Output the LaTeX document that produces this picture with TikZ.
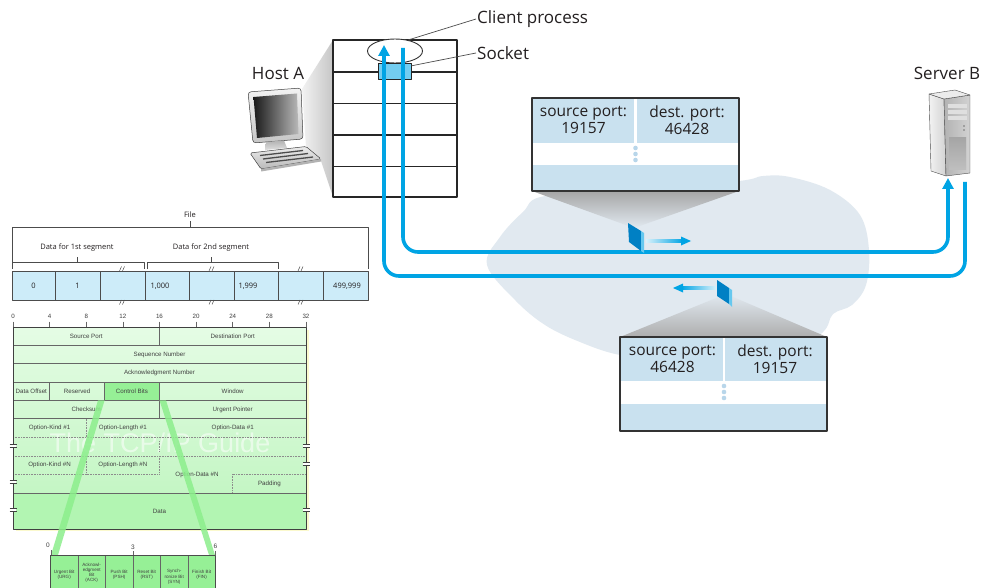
\documentclass[tikz,border=0pt]{standalone}
\usepackage{fontspec}
\setmainfont{Open Sans}
\newfontfamily\hdrfont{Liberation Sans}
\usepackage{xcolor}
\usepackage{tikz}
\usetikzlibrary{arrows.meta, shapes.geometric, positioning}

\definecolor{netblue}{RGB}{0,164,228}
\definecolor{slabblue}{RGB}{0,128,196}
\definecolor{pktblue}{RGB}{201,225,239}
\definecolor{pktdot}{RGB}{184,214,234}
\definecolor{cloudgray}{RGB}{225,233,240}
\definecolor{filecell}{RGB}{205,236,249}
\definecolor{hdrtop}{RGB}{229,252,229}
\definecolor{hdrbot}{RGB}{196,246,196}
\definecolor{hdrdata}{RGB}{178,245,178}
\definecolor{ctrlgreen}{RGB}{150,240,150}
\definecolor{bandgreen}{RGB}{140,238,140}
\definecolor{inkgray}{RGB}{35,31,32}

\tikzstyle{lbl} = [font=\fontsize{17}{20}\selectfont, text=inkgray, inner sep=1pt]
\tikzstyle{pkttext} = [font=\fontsize{15.5}{16.5}\selectfont, align=center, text=inkgray]
\tikzstyle{filetext} = [font=\fontsize{7.5}{9}\selectfont, text=inkgray, inner sep=0pt]
\tikzstyle{hdr} = [font=\hdrfont\fontsize{6.2}{7}\selectfont, text=black!75, inner sep=0pt]
\tikzstyle{bitcell} = [font=\hdrfont\fontsize{4.6}{5.2}\selectfont, align=center, text=black!75, inner sep=0pt]
\tikzstyle{flow} = [netblue, line width=3.6pt, rounded corners=15pt]
\tikzstyle{flowtip} = [-{Triangle[width=11pt,length=11pt]}]
\tikzstyle{leader} = [black!70, line width=0.7pt]
\tikzstyle{optline} = [densely dotted, black!45, line width=0.6pt]
\tikzstyle{hline} = [black!60, line width=0.6pt]
\tikzstyle{cellline} = [black!70, line width=0.7pt]

\begin{document}
\begin{tikzpicture}[x=1pt, y=-1pt, line join=round]
\fill[white] (0,0) rectangle (982,588);
\useasboundingbox (0,0) rectangle (982,588);

% network cloud
\fill[cloudgray] plot[smooth cycle, tension=0.6] coordinates {(487,265) (500,237) (523,212) (545,196) (640,190) (739,181) (763,176) (790,177) (830,190) (860,215) (869,250) (866,285) (852,305) (833,314) (822,333) (780,360) (680,362) (620,355) (580,342) (545,325) (515,300)};

% shadows from the segments up/down to the header boxes
\shade[top color=black!35, bottom color=cloudgray] (532,191) -- (739,191) -- (634,228) -- cycle;
\shade[top color=cloudgray, bottom color=black!32] (726,294) -- (827,337) -- (620,337) -- cycle;

% first segment header (client -> server)
\fill[pktblue] (532,98) rectangle (739,143);
\fill[white] (532,143) rectangle (739,165);
\fill[pktblue] (532,165) rectangle (739,191);
\draw[white, line width=2.5pt] (635.5,98) -- (635.5,143);
\foreach \y in {148,154,160} \fill[pktdot] (635.5,\y) circle (2.3pt);
\draw[black!80, line width=1.5pt] (532,98) rectangle (739,191);
\node (srcA) [pkttext] at (583.5,120) {source port:\\19157};
\node (dstA) [pkttext] at (687,120) {dest. port:\\46428};

% second segment header (server -> client)
\fill[pktblue] (620,337) rectangle (827,381);
\fill[white] (620,381) rectangle (827,404);
\fill[pktblue] (620,404) rectangle (827,431);
\draw[white, line width=2.5pt] (724,337) -- (724,381);
\foreach \y in {386,392,398} \fill[pktdot] (724,\y) circle (2.3pt);
\draw[black!80, line width=1.5pt] (620,337) rectangle (827,431);
\node (srcB) [pkttext] at (672.5,359) {source port:\\46428};
\node (dstB) [pkttext] at (775,359) {dest. port:\\19157};

% host A: shadow, computer, layer stack
\shade[left color=gray!10, right color=gray!45] (302,89) -- (333,40) -- (333,197) -- (321,161) -- (306,147) -- cycle;
\shade[top color=gray!10, bottom color=gray!45, draw=gray!50!black, line width=0.5pt, rounded corners=3pt] (248,92) -- (301,88) -- (303,139) -- (253,143) -- cycle;
\shade[left color=black!90, right color=gray!55] (253.5,97) -- (297,93.5) -- (298.5,134) -- (257,138) -- cycle;
\shade[top color=gray!60, bottom color=gray!25] (266,142) -- (284,140.5) -- (287,148) -- (265,150) -- cycle;
\shade[top color=gray!15, bottom color=gray!55, draw=gray!50!black, line width=0.5pt, rounded corners=1.5pt] (250,153) -- (306,146.5) -- (321,159) -- (261,169) -- cycle;
\fill[gray!60] (261,169) -- (321,159) -- (321,161.5) -- (261,171.5) -- cycle;
\draw[black!70, line width=1.3pt] (260,155.5) -- (303,150.5);
\draw[black!70, line width=1.3pt] (263,159) -- (308,153.5);
\draw[black!70, line width=1.3pt] (266,162.5) -- (313,157);
\node (hostA) [lbl] at (278,73) {Host A};

\node (stack) [draw=black!85, line width=1.2pt, fill=white, minimum width=124pt, minimum height=157pt] at (395,118.5) {};
\foreach \y in {72,103.5,135,166.5} \draw[black!85, line width=1.2pt] (333,\y) -- (457,\y);
\node (proc) [ellipse, draw=black!80, line width=0.9pt, fill=white, minimum width=55pt, minimum height=24pt, inner sep=0pt] at (395,51) {};
\node (sock) [draw=black!85, line width=1pt, fill=netblue!55, minimum width=33pt, minimum height=16pt, inner sep=0pt] at (394.5,72) {};

\node (cliLbl) [lbl, anchor=west] at (476,19) {Client process};
\node (sockLbl) [lbl, anchor=west] at (476,53) {Socket};
\draw[leader] (cliLbl.west) -- (proc.40);
\draw[leader] (sockLbl.west) -- (sock.20);

% server B tower
\shade[left color=gray!10, right color=gray!35, draw=gray!60!black, line width=0.4pt] (929,94) -- (944,99) -- (946,176) -- (931,171) -- cycle;
\shade[left color=gray!60, right color=gray!35, draw=gray!60!black, line width=0.4pt] (944,99) -- (970,95) -- (970,173) -- (946,176) -- cycle;
\fill[gray!15, draw=gray!60!black, line width=0.4pt] (929,94) -- (955,90) -- (970,95) -- (944,99) -- cycle;
\foreach \y in {104,110,116} \fill[gray!25] (948,\y) rectangle (967,\y+4.5);
\fill[black!55] (964,126) circle (0.9pt);
\fill[black!55] (964,130) circle (0.9pt);
\shade[top color=gray!70, bottom color=gray!50] (949,138) rectangle (966,170);
\node (serverB) [lbl] at (947,73) {Server B};

% the two flows
\coordinate (hostOut) at (403,48);
\coordinate (hostIn) at (384,45);
\coordinate (srvIn) at (948,178);
\coordinate (srvOut) at (965,182);
\coordinate (highRun) at (0,252);
\coordinate (lowRun) at (0,276);
\draw[flow, flowtip] (hostOut) -- (hostOut |- highRun) -- (srvIn |- highRun) -- (srvIn);
\draw[flow, flowtip] (srvOut) -- (srvOut |- lowRun) -- (hostIn |- lowRun) -- (hostIn);

% segments travelling on the flows
\fill[slabblue] (628,223) -- (641,231) -- (641,251) -- (629,242) -- cycle;
\fill[netblue!60] (641,231) -- (644,233) -- (644,253) -- (641,251) -- cycle;
\shade[left color=netblue!15, right color=netblue] (646,239.5) rectangle (683,242.5);
\fill[netblue] (681,236.5) -- (691,241) -- (681,245.5) -- cycle;

\fill[slabblue] (717,280) -- (729,288) -- (729,304) -- (717,296) -- cycle;
\fill[netblue!60] (729,288) -- (732,290) -- (732,307) -- (729,304) -- cycle;
\shade[left color=netblue, right color=netblue!15] (681,286.5) rectangle (716,289.5);
\fill[netblue] (683,283.5) -- (673,288) -- (683,292.5) -- cycle;

% file split into segments
\node (fileLbl) [filetext] at (190,215) {File};
\draw[cellline] (12,268) -- (12,227) -- (368,227) -- (368,269);
\draw[cellline] (190,227) -- (190,221);
\node (seg1Lbl) [filetext] at (77,248) {Data for 1st segment};
\node (seg2Lbl) [filetext] at (211,248) {Data for 2nd segment};
\draw[cellline] (12,269) -- (12,262) -- (144,262) -- (144,269);
\draw[cellline] (77,262) -- (77,257);
\draw[cellline] (147,269) -- (147,262) -- (278,262) -- (278,269);
\draw[cellline] (211,262) -- (211,257);
\fill[filecell] (12,271) rectangle (368,300);
\foreach \x in {55,100,145,189,234,278,323} \draw[cellline] (\x,271) -- (\x,300);
\draw[cellline] (12,271) rectangle (368,300);
\foreach \x in {122,211.5,300.5} {
  \draw[black!70, line width=0.5pt] (\x-2.5,271) -- (\x-0.5,266.5);
  \draw[black!70, line width=0.5pt] (\x+0.5,271) -- (\x+2.5,266.5);
  \draw[black!70, line width=0.5pt] (\x-2.5,304.5) -- (\x-0.5,300);
  \draw[black!70, line width=0.5pt] (\x+0.5,304.5) -- (\x+2.5,300);
}
\node (byte0) [filetext] at (33.5,286) {0};
\node (byte1) [filetext] at (77.5,286) {1};
\node (byte1000) [filetext] at (160,286) {1,000};
\node (byte1999) [filetext] at (248,286) {1,999};
\node (byteLast) [filetext] at (347,286) {499,999};

% TCP header
\fill[black!8!yellow!20] (307,330) rectangle (309,531);
\fill[black!8!yellow!20] (16,529) rectangle (309,531);
\shade[top color=hdrtop, bottom color=hdrbot] (13,327) rectangle (306,493);
\fill[hdrdata] (13,493) rectangle (306,529);
\fill[ctrlgreen] (104.6,382) rectangle (159.5,400.3);
\node (mark) [font=\hdrfont\fontsize{27}{30}\selectfont, text=white, opacity=0.55] at (160,443) {The TCP/IP Guide};
\foreach \b in {0,4,...,32} {
  \node (tick\b) [hdr] at ({13+9.156*\b},316.5) {\b};
  \draw[hline] ({13+9.156*\b},321.5) -- ({13+9.156*\b},327);
}
\foreach \y in {345.3,363.6,382,400.3,418.6,493} \draw[hline] (13,\y) -- (306,\y);
\draw[hline] (159.5,327) -- (159.5,345.3);
\draw[hline] (49.6,382) -- (49.6,400.3);
\draw[hline] (104.6,382) -- (104.6,400.3);
\draw[hline] (159.5,382) -- (159.5,418.6);
\draw[optline] (13,437) -- (306,437);
\draw[optline] (13,456) -- (306,456);
\draw[optline] (86.2,418.6) -- (86.2,437);
\draw[optline] (159.5,441) -- (159.5,451);
\draw[optline] (86.2,456) -- (86.2,474);
\draw[optline] (159.5,456) -- (159.5,474);
\draw[optline] (13,474) -- (159.5,474);
\draw[optline] (232.7,474) -- (232.7,493);
\draw[optline] (232.7,474) -- (306,474);
\draw[black!75, line width=1pt] (13,327) rectangle (306,529);
\foreach \y in {446,482,510} {
  \fill[white] (10,\y-1.2) rectangle (16,\y+1.2);
  \draw[black!75, line width=0.6pt] (9.5,\y-1.4) -- (16.5,\y-1.4);
  \draw[black!75, line width=0.6pt] (9.5,\y+1.4) -- (16.5,\y+1.4);
}
\foreach \y in {446,464,510} {
  \fill[white] (303,\y-1.2) rectangle (309,\y+1.2);
  \draw[black!75, line width=0.6pt] (302.5,\y-1.4) -- (309.5,\y-1.4);
  \draw[black!75, line width=0.6pt] (302.5,\y+1.4) -- (309.5,\y+1.4);
}
\node (srcPort) [hdr] at (86.2,336.2) {Source Port};
\node (dstPort) [hdr] at (232.7,336.2) {Destination Port};
\node (seqNum) [hdr] at (159.5,354.5) {Sequence Number};
\node (ackNum) [hdr] at (159.5,372.8) {Acknowledgment Number};
\node (dataOff) [hdr] at (31.3,391.2) {Data Offset};
\node (resvd) [hdr] at (77.1,391.2) {Reserved};
\node (ctrlBits) [hdr] at (132,391.2) {Control Bits};
\node (window) [hdr] at (232.7,391.2) {Window};
\node (chksum) [hdr] at (86.2,409.5) {Checksum};
\node (urgPtr) [hdr] at (232.7,409.5) {Urgent Pointer};
\node (optKind1) [hdr] at (49.6,428) {Option-Kind \#1};
\node (optLen1) [hdr] at (122.9,428) {Option-Length \#1};
\node (optData1) [hdr] at (232.7,428) {Option-Data \#1};
\node (optKindN) [hdr] at (49.6,465) {Option-Kind \#N};
\node (optLenN) [hdr] at (122.9,465) {Option-Length \#N};
\node (optDataN) [hdr] at (197,474.5) {Option-Data \#N};
\node (padding) [hdr] at (269.4,483.5) {Padding};
\node (data) [hdr] at (159.5,511) {Data};

% zoom bands from the control bits
\fill[bandgreen, opacity=0.85] (98,400.3) -- (104.6,400.3) -- (58,555) -- (51,555) -- cycle;
\fill[bandgreen, opacity=0.85] (159.5,400.3) -- (166,400.3) -- (215,555) -- (209,555) -- cycle;

% control bits
\node (bit0) [hdr, font=\hdrfont\fontsize{6.5}{7}\selectfont] at (48,545) {0};
\node (bit3) [hdr, font=\hdrfont\fontsize{6.5}{7}\selectfont] at (133,547.5) {3};
\node (bit6) [hdr, font=\hdrfont\fontsize{6.5}{7}\selectfont] at (215.5,546.5) {6};
\fill[ctrlgreen] (50.5,555) rectangle (215,588);
\foreach \x in {78,105.5,133,160.5,188} \draw[hline] (\x,555) -- (\x,588);
\draw[hline] (51,550) -- (51,555);
\draw[hline] (132.8,551) -- (132.8,555);
\draw[hline] (215,550.5) -- (215,555);
\draw[black!70, line width=0.9pt] (50.5,588) -- (50.5,555) -- (215,555) -- (215,588);
\node (urg) [bitcell] at (64.2,575) {Urgent Bit\\(URG)};
\node (ack) [bitcell] at (91.7,573) {Acknowl-\\edgment\\Bit\\(ACK)};
\node (psh) [bitcell] at (119.2,575) {Push Bit\\(PSH)};
\node (rst) [bitcell] at (146.7,575) {Reset Bit\\(RST)};
\node (syn) [bitcell] at (174.2,577) {Synch-\\ronize Bit\\(SYN)};
\node (fin) [bitcell] at (201.6,575) {Finish Bit\\(FIN)};
\end{tikzpicture}
\end{document}
